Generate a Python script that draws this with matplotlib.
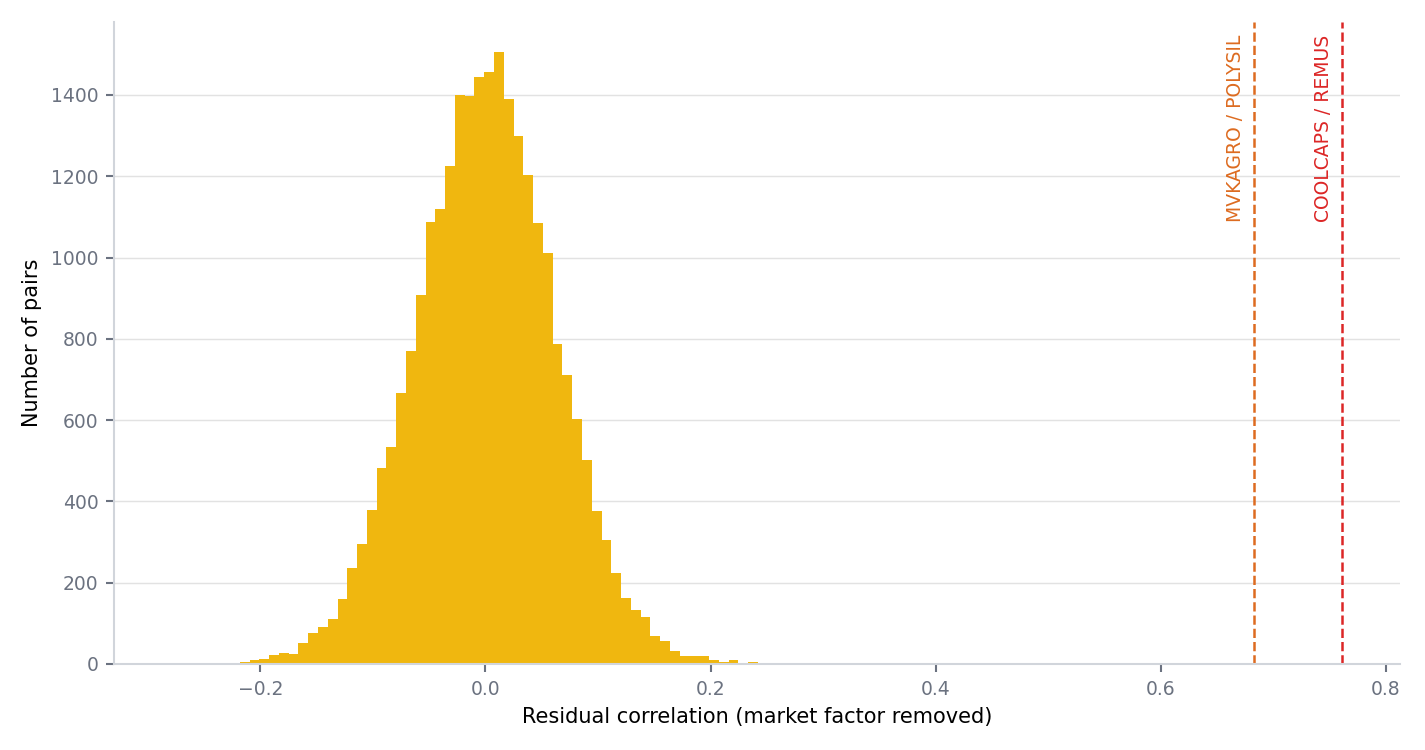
import numpy as np
import matplotlib
matplotlib.use("Agg")
import matplotlib.pyplot as plt
import matplotlib.transforms as mtransforms

# histogram of residual correlations (counts)
bin_start = -0.2358
bin_width = 0.00869
counts = [1, 0, 5, 10, 12, 21, 27, 25, 52, 75, 91, 111, 161, 237, 294, 378,
          481, 533, 667, 771, 908, 1088, 1120, 1226, 1399, 1398, 1443, 1457,
          1505, 1389, 1300, 1204, 1086, 1012, 786, 711, 603, 503, 377, 305,
          224, 162, 133, 116, 69, 57, 32, 20, 20, 20, 10, 5, 10, 2, 5, 1, 1]

pair_names = ["MVKAGRO / POLYSIL", "COOLCAPS / REMUS"]
pair_values = [0.6831, 0.7613]
pair_colors = ["#dd6b20", "#dc2626"]

edges = bin_start + bin_width * np.arange(len(counts) + 1)

tick_col = "#6b7280"
spine_col = "#d1d5db"

fig = plt.figure(figsize=(9.5, 5), dpi=150)
ax = fig.add_axes([0.080, 0.1147, 0.9025, 0.8563])

ax.stairs(counts, edges, fill=True, color="#f0b70f", linewidth=0)

trans = mtransforms.blended_transform_factory(ax.transData, ax.transAxes)
for name, val, col in zip(pair_names, pair_values, pair_colors):
    ax.axvline(val, color=col, linestyle="--", linewidth=1.2)
    ax.text(val - 0.008, 0.98, name, transform=trans, rotation=90,
            ha="right", va="top", color=col, fontsize=9)

ax.set_xlim(-0.3302, 0.8129)
ax.set_ylim(0, 1580)
ax.set_xticks([-0.2, 0.0, 0.2, 0.4, 0.6, 0.8])
ax.set_yticks(range(0, 1401, 200))

ax.grid(axis="y", color="#e2e2e2", linewidth=0.7)
ax.set_axisbelow(True)
for s in ["top", "right"]:
    ax.spines[s].set_visible(False)
for s in ["left", "bottom"]:
    ax.spines[s].set_color(spine_col)
    ax.spines[s].set_linewidth(1.0)
ax.tick_params(colors=tick_col, labelsize=9, length=4, width=1)
ax.tick_params(axis="both", labelcolor=tick_col)

ax.set_xlabel("Residual correlation (market factor removed)", fontsize=10)
ax.set_ylabel("Number of pairs", fontsize=10)

fig.savefig("out.png", dpi=150)
